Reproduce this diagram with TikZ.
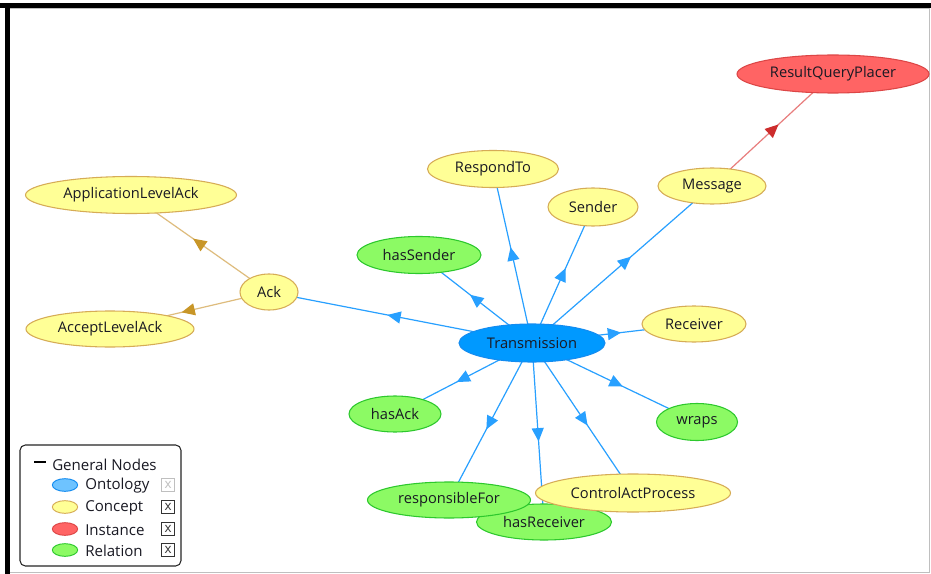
\documentclass[tikz,border=0pt]{standalone}
\usepackage{fontspec}
\setmainfont{Open Sans}
\usetikzlibrary{shapes.geometric,arrows.meta,decorations.markings}

\definecolor{ontofill}{RGB}{0,153,255}
\definecolor{ontoline}{RGB}{20,140,240}
\definecolor{ontolight}{RGB}{110,195,255}
\definecolor{conceptfill}{RGB}{255,255,150}
\definecolor{conceptline}{RGB}{214,172,86}
\definecolor{instfill}{RGB}{255,100,100}
\definecolor{instline}{RGB}{220,70,70}
\definecolor{relfill}{RGB}{140,250,100}
\definecolor{relline}{RGB}{45,200,45}
\definecolor{edgeblue}{RGB}{40,160,255}
\definecolor{edgegold}{RGB}{222,188,125}
\definecolor{tipgold}{RGB}{200,150,40}
\definecolor{edgered}{RGB}{232,125,125}
\definecolor{tipred}{RGB}{205,45,45}
\definecolor{inktext}{RGB}{25,25,35}

\pgfdeclarelayer{canvas}
\pgfdeclarelayer{edges}
\pgfsetlayers{canvas,edges,main}

\tikzset{
  x=0.75pt, y=-0.75pt,
  every node/.style={font=\fontsize{11}{13}\selectfont, text=inktext},
  esize/.style 2 args={minimum width=#1*0.75pt, minimum height=#2*0.75pt, inner sep=0pt},
  gnode/.style={ellipse, line width=0.8pt},
  onto/.style={gnode, draw=ontoline, fill=ontofill},
  concept/.style={gnode, draw=conceptline, fill=conceptfill},
  inst/.style={gnode, draw=instline, fill=instfill},
  rel/.style={gnode, draw=relline, fill=relfill},
  midtip/.style={decoration={markings,
      mark=at position 0.55 with {\arrow[#1]{Triangle[length=10pt,width=9pt]}}},
      postaction={decorate}},
  blueedge/.style={draw=edgeblue, line width=0.9pt, midtip=edgeblue},
  goldedge/.style={draw=edgegold, line width=0.9pt, midtip=tipgold},
  rededge/.style={draw=edgered, line width=0.9pt, midtip=tipred},
  legicon/.style={ellipse, line width=0.7pt, minimum width=19pt, minimum height=9.5pt, inner sep=0pt},
  legtext/.style={anchor=west, inner sep=0pt, font=\fontsize{11.3}{13}\selectfont},
  chk/.style={draw=#1, line width=0.8pt, minimum size=10pt, inner sep=0pt,
      font=\fontsize{10}{10}\selectfont, text=#1},
}

\begin{document}
\begin{tikzpicture}
\useasboundingbox (0,0) rectangle (931,574);
\begin{pgfonlayer}{canvas}
\fill[white] (0,0) rectangle (931,574);
\end{pgfonlayer}

% window frame
\fill[black] (0,3) rectangle (931,8);
\fill[black] (5,3) rectangle (10,574);
\draw[black!25, line width=0.75pt] (10,9) -- (929,9) -- (929,572) -- (10,572);

% nodes of the graph
\node[inst, esize={192}{38}] (rqp) at (833,74) {ResultQueryPlacer};
\node[concept, esize={108}{36}] (msg) at (712,186) {Message};
\node[concept, esize={131}{37}] (resp) at (493,169) {RespondTo};
\node[concept, esize={90}{38}] (sender) at (593,207) {Sender};
\node[rel, esize={124}{37}] (hassender) at (419,255) {hasSender};
\node[concept, esize={211}{37}] (appack) at (131,195) {ApplicationLevelAck};
\node[concept, esize={58}{36}] (ack) at (269,292) {Ack};
\node[concept, esize={168}{36}] (accack) at (110,329) {AcceptLevelAck};
\node[onto, esize={146}{38}] (trans) at (532,343) {Transmission};
\node[concept, esize={104}{36}] (recv) at (694,324) {Receiver};
\node[rel, esize={81}{37}] (wraps) at (697,422) {wraps};
\node[rel, esize={92}{36}] (hasack) at (395,414) {hasAck};
\node[rel, esize={135}{36}] (hasrecv) at (544,522) {hasReceiver};
\node[rel, esize={163}{36}] (respfor) at (449,500) {responsibleFor};
\node[concept, esize={195}{38}] (cap) at (633,493) {ControlActProcess};

% connectors, drawn beneath the nodes
\begin{pgfonlayer}{edges}
\foreach \t in {ack,hassender,resp,sender,msg,recv,wraps,cap,hasrecv,respfor,hasack}
  \path[blueedge] (trans.center) -- (\t.center);
\path[goldedge] (ack.center) -- (appack.center);
\path[goldedge] (ack.center) -- (accack.center);
\path[rededge] (msg.center) -- (rqp.center);
\end{pgfonlayer}

% legend
\node[draw=black!85, line width=0.8pt, rounded corners=4pt, minimum width=120.75pt,
      minimum height=90.75pt, inner sep=0pt] (legend) at (100.5,505.5) {};
\draw[black, line width=0.8pt] (34,462) -- (46,462);
\node[legtext] (lgen) at (52,465) {General Nodes};
\node[legicon, draw=ontoline, fill=ontolight] (ionto) at (65,485) {};
\node[legtext] (lonto) at (85,486) {Ontology};
\node[chk=black!25] (conto) at (168,485) {x};
\node[legicon, draw=conceptline, fill=conceptfill] (iconc) at (65,507) {};
\node[legtext] (lconc) at (85,508) {Concept};
\node[chk=black!80] (cconc) at (168,507) {x};
\node[legicon, draw=instline, fill=instfill] (iinst) at (65,529) {};
\node[legtext] (linst) at (85,530) {Instance};
\node[chk=black!80] (cinst) at (168,529) {x};
\node[legicon, draw=relline, fill=relfill] (irel) at (65,550) {};
\node[legtext] (lrel) at (85,551) {Relation};
\node[chk=black!80] (crel) at (168,550) {x};
\end{tikzpicture}
\end{document}
